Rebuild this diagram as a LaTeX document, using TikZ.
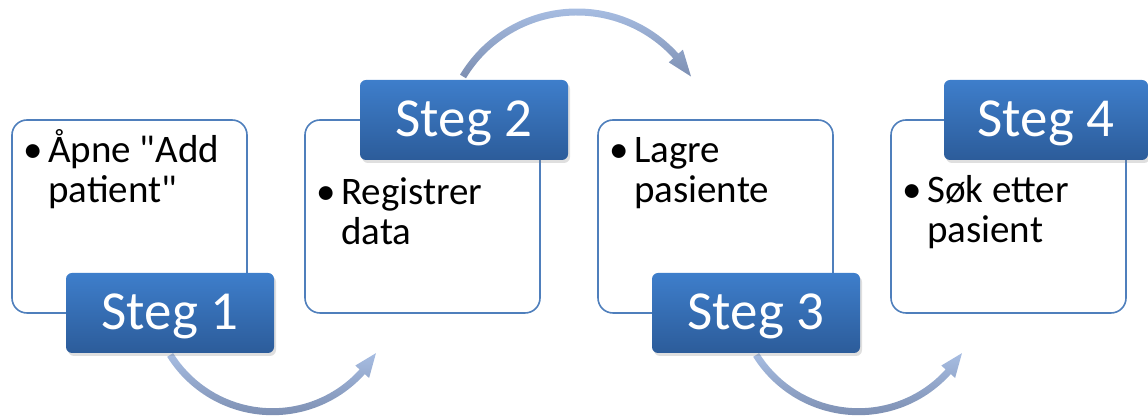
\documentclass[tikz,border=0pt]{standalone}
\usepackage{fontspec}
\setmainfont{Carlito}[Ligatures=TeXOff]
\usetikzlibrary{shadows,arrows.meta}
\definecolor{boxline}{HTML}{4F7FBC}
\definecolor{stegtop}{HTML}{3E7ECB}
\definecolor{stegbot}{HTML}{2C5C9A}
\definecolor{arrlight}{HTML}{A7BDE2}
\definecolor{arrdark}{HTML}{7D8FB2}
\tikzset{
  x=1pt, y=1pt,
  card/.style={draw=boxline, line width=1.6pt, fill=white, rounded corners=15pt,
    minimum width=235pt, minimum height=193pt, inner sep=0pt},
  stegbox/.style={rounded corners=6pt, top color=stegtop, bottom color=stegbot, draw=none,
    minimum width=208pt, minimum height=80pt, inner sep=0pt,
    drop shadow={opacity=0.25, shadow xshift=2pt, shadow yshift=-3pt}},
  stegtext/.style={text=white, font=\fontsize{55}{66}\selectfont, inner sep=0pt, anchor=base},
  bullettext/.style={font=\fontsize{39}{40}\selectfont, inner sep=0pt, anchor=base west},
  bulletdot/.style={font=\fontsize{39}{40}\selectfont, inner sep=0pt, anchor=base},
  arrowshade/.style={top color=arrlight, bottom color=arrdark, draw=none},
}
\begin{document}
\begin{tikzpicture}
\useasboundingbox (0,0) rectangle (1148,419);
% arc centres
\coordinate (c1) at (272.5,128);
\coordinate (c2) at (577,274);
\coordinate (c3) at (858.5,128);
% curved arrows (behind boxes)
\shade[arrowshade] ([shift={(c1)}]212:124.2) arc[start angle=212, end angle=318, radius=124.2]
  -- ([shift={(c1)}]318:130) -- ([shift={(c1)}]329:120.7) -- ([shift={(c1)}]318:111.4)
  -- ([shift={(c1)}]318:117.2) arc[start angle=318, end angle=212, radius=117.2] -- cycle;
\shade[arrowshade] ([shift={(c2)}]149:136.5) arc[start angle=149, end angle=42, radius=136.5]
  -- ([shift={(c2)}]42:142.5) -- ([shift={(c2)}]31:133) -- ([shift={(c2)}]42:123.5)
  -- ([shift={(c2)}]42:129.5) arc[start angle=42, end angle=149, radius=129.5] -- cycle;
\shade[arrowshade] ([shift={(c3)}]212:124.2) arc[start angle=212, end angle=318, radius=124.2]
  -- ([shift={(c3)}]318:130) -- ([shift={(c3)}]329:120.7) -- ([shift={(c3)}]318:111.4)
  -- ([shift={(c3)}]318:117.2) arc[start angle=318, end angle=212, radius=117.2] -- cycle;
% cards
\node[card] (b1) at (129.5,202.5) {};
\node[card] (b2) at (422.5,202.5) {};
\node[card] (b3) at (715.5,202.5) {};
\node[card] (b4) at (1008.5,202.5) {};
% bullets and texts
\node[bulletdot] (d1) at (33,256) {•};
\node[bullettext] (t1a) at (48,256) {Åpne "Add};
\node[bullettext] (t1b) at (48,216) {patient"};
\node[bulletdot] (d2) at (326,214) {•};
\node[bullettext] (t2a) at (341,214) {Registrer};
\node[bullettext] (t2b) at (341,174) {data};
\node[bulletdot] (d3) at (619,256) {•};
\node[bullettext] (t3a) at (634,256) {Lagre};
\node[bullettext] (t3b) at (634,216) {pasiente};
\node[bulletdot] (d4) at (912,216) {•};
\node[bullettext] (t4a) at (927,216) {Søk etter};
\node[bullettext] (t4b) at (927,176) {pasient};
% step boxes
\node[stegbox] (s1) at (170,106) {};
\node[stegbox] (s2) at (464,299) {};
\node[stegbox] (s3) at (756,106) {};
\node[stegbox, minimum width=204pt] (s4) at (1046,299) {};
\node[stegtext] (s1t) at ([yshift=-17pt]s1.center) {Steg 1};
\node[stegtext] (s2t) at ([yshift=-17pt]s2.center) {Steg 2};
\node[stegtext] (s3t) at ([yshift=-17pt]s3.center) {Steg 3};
\node[stegtext] (s4t) at ([yshift=-17pt]s4.center) {Steg 4};
\end{tikzpicture}
\end{document}
